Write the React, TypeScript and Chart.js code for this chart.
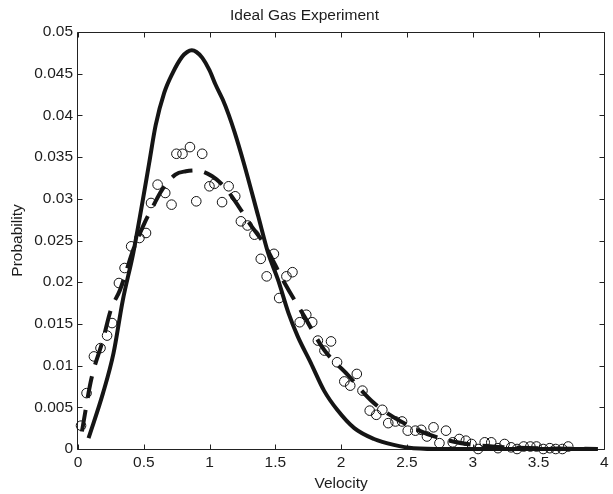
import { useEffect, useRef } from "react";
import { Chart, registerables } from "chart.js";

Chart.register(...registerables);

// ---- Data ----
const SAMPLE_V = [
  0.023, 0.065, 0.121, 0.171, 0.221, 0.259, 0.311, 0.354, 0.404, 0.467,
  0.517, 0.555, 0.605, 0.663, 0.711, 0.748, 0.794, 0.851, 0.899, 0.944,
  0.999, 1.037, 1.095, 1.145, 1.195, 1.238, 1.288, 1.341, 1.389, 1.434,
  1.489, 1.529, 1.584, 1.630, 1.685, 1.735, 1.780, 1.823, 1.873, 1.923,
  1.969, 2.024, 2.069, 2.119, 2.162, 2.217, 2.267, 2.313, 2.358, 2.413,
  2.463, 2.506, 2.564, 2.609, 2.652, 2.702, 2.747, 2.797, 2.848, 2.898,
  2.948, 2.991, 3.041, 3.091, 3.141, 3.192, 3.242, 3.292, 3.337, 3.387,
  3.438, 3.485, 3.536, 3.586, 3.631, 3.681, 3.726,
];
const SAMPLE_P = [
  0.0028, 0.0067, 0.0111, 0.0121, 0.0136, 0.0151, 0.0199, 0.0217, 0.0243, 0.0253,
  0.0259, 0.0295, 0.0317, 0.0307, 0.0293, 0.0354, 0.0354, 0.0362, 0.0297, 0.0354,
  0.0315, 0.0318, 0.0296, 0.0315, 0.0303, 0.0273, 0.0268, 0.0257, 0.0228, 0.0207,
  0.0234, 0.0181, 0.0207, 0.0212, 0.0152, 0.0161, 0.0152, 0.0130, 0.0118, 0.0129,
  0.0104, 0.0081, 0.0076, 0.0090, 0.0070, 0.0046, 0.0041, 0.0047, 0.0031, 0.0033,
  0.0033, 0.0022, 0.0022, 0.0023, 0.0015, 0.0026, 0.0007, 0.0022, 0.0008, 0.0012,
  0.0010, 0.0006, 0.0000, 0.0008, 0.0008, 0.0001, 0.0006, 0.0002, 0.0000, 0.0003,
  0.0003, 0.0003, 0.0000, 0.0001, 0.0000, 0.0000, 0.0003,
];

// dashed curve (fit to the samples)
const FIT_V = [
  0.03, 0.10, 0.19, 0.25, 0.32, 0.42, 0.50, 0.57, 0.64, 0.74,
  0.82, 0.90, 1.02, 1.12, 1.22, 1.31, 1.41, 1.57, 1.72, 1.87,
  2.05, 2.25, 2.58, 2.85, 3.15, 3.50, 3.95,
];
const FIT_P = [
  0.0021, 0.0083, 0.0131, 0.0167, 0.0191, 0.0239, 0.0269, 0.0291, 0.0311, 0.0329,
  0.0333, 0.0334, 0.0327, 0.0313, 0.0291, 0.0269, 0.0247, 0.0199, 0.0159, 0.0119,
  0.0089, 0.0055, 0.0023, 0.0009, 0.0003, 0.0001, 0.0000,
];

// solid curve (theory)
const THEORY_V = [
  0.08, 0.19, 0.27, 0.34, 0.42, 0.48, 0.54, 0.59, 0.655, 0.72,
  0.79, 0.83, 0.865, 0.90, 0.945, 1.00, 1.045, 1.10, 1.145, 1.19,
  1.26, 1.37, 1.445, 1.52, 1.60, 1.67, 1.77, 1.87, 1.97, 2.10,
  2.25, 2.40, 2.55, 2.80, 3.20, 3.60, 3.95,
];
const THEORY_P = [
  0.0013, 0.0067, 0.0115, 0.0178, 0.0235, 0.0287, 0.0342, 0.0388, 0.0427, 0.0451,
  0.0470, 0.0476, 0.0478, 0.0476, 0.0469, 0.0454, 0.0437, 0.0419, 0.0401, 0.0380,
  0.0343, 0.0279, 0.0235, 0.0203, 0.0163, 0.0135, 0.0103, 0.0070, 0.0047, 0.0025,
  0.0012, 0.0005, 0.0001, 0.0000, 0.0000, 0.0000, 0.0000,
];

const X_TICKS = [0, 0.5, 1, 1.5, 2, 2.5, 3, 3.5, 4];
const Y_TICKS = [0, 0.005, 0.01, 0.015, 0.02, 0.025, 0.03, 0.035, 0.04, 0.045, 0.05];

const TITLE = "Ideal Gas Experiment";
const X_LABEL = "Velocity";
const Y_LABEL = "Probability";

const FONT_FAMILY = "'Liberation Sans', Arial, Helvetica, sans-serif";
const TEXT_COLOR = "#1c1c1c";
const LINE_COLOR = "#151515";

const fmt = (v: number | string) => String(Number(Number(v).toFixed(4)));

const boxPlugin = {
  id: "matlabBox",
  beforeDatasetsDraw(chart: any) {
    const { ctx, chartArea: a, scales } = chart;
    const L = Math.round(a.left) - 0.5;
    const R = Math.round(a.right) + 0.5;
    const T = Math.round(a.top) + 0.5;
    const B = Math.round(a.bottom) + 0.5;
    const len = 5;
    ctx.save();
    ctx.strokeStyle = "#222";
    ctx.lineWidth = 1;
    ctx.beginPath();
    ctx.rect(L, T, R - L, B - T);
    for (const t of scales.x.ticks) {
      const px = Math.round(scales.x.getPixelForValue(t.value)) + 0.5;
      ctx.moveTo(px, B);
      ctx.lineTo(px, B - len);
      ctx.moveTo(px, T);
      ctx.lineTo(px, T + len);
    }
    for (const t of scales.y.ticks) {
      const py = Math.round(scales.y.getPixelForValue(t.value)) + 0.5;
      ctx.moveTo(L, py);
      ctx.lineTo(L + len, py);
      ctx.moveTo(R, py);
      ctx.lineTo(R - len, py);
    }
    ctx.stroke();
    ctx.restore();
  },
};

export default function App() {
  const canvasRef = useRef<HTMLCanvasElement | null>(null);

  useEffect(() => {
    document.body.style.margin = "0";
    const canvas = canvasRef.current;
    if (!canvas) return;
    const font = { family: FONT_FAMILY, size: 15.5, weight: "normal" as const };

    const chart = new Chart(canvas, {
      type: "scatter",
      data: {
        datasets: [
          {
            label: "theory",
            data: THEORY_V.map((v, i) => ({ x: v, y: THEORY_P[i] })),
            showLine: true,
            borderColor: LINE_COLOR,
            borderWidth: 4,
            pointRadius: 0,
            cubicInterpolationMode: "monotone",
            borderJoinStyle: "round",
            fill: false,
            clip: false as any,
          },
          {
            label: "fit",
            data: FIT_V.map((v, i) => ({ x: v, y: FIT_P[i] })),
            showLine: true,
            borderColor: LINE_COLOR,
            borderWidth: 4,
            borderDash: [22, 12],
            borderCapStyle: "butt",
            pointRadius: 0,
            cubicInterpolationMode: "monotone",
            fill: false,
            clip: false as any,
          },
          {
            label: "samples",
            data: SAMPLE_V.map((v, i) => ({ x: v, y: SAMPLE_P[i] })),
            showLine: false,
            pointStyle: "circle",
            pointRadius: 4.8,
            pointBorderWidth: 1,
            pointBorderColor: "#111",
            pointBackgroundColor: "rgba(0,0,0,0)",
            clip: false as any,
          },
        ],
      },
      options: {
        animation: false,
        responsive: false,
        events: [],
        layout: { padding: { left: 0, right: 4, top: 0, bottom: 0 } },
        plugins: {
          legend: { display: false },
          tooltip: { enabled: false },
          title: {
            display: true,
            text: TITLE,
            color: TEXT_COLOR,
            font,
            padding: { top: 6.4, bottom: 7 },
          },
        },
        scales: {
          x: {
            type: "linear",
            min: 0,
            max: 4,
            afterBuildTicks: (s: any) => {
              s.ticks = X_TICKS.map((value) => ({ value }));
            },
            afterFit: (s: any) => {
              s.height = 45;
            },
            grid: { display: false, drawTicks: false },
            border: { display: false },
            ticks: {
              callback: (v: any) => fmt(v),
              color: TEXT_COLOR,
              font,
              padding: 4.4,
              maxRotation: 0,
              autoSkip: false,
            },
            title: {
              display: true,
              text: X_LABEL,
              color: TEXT_COLOR,
              font,
              padding: { top: 0, bottom: 1 },
            },
          },
          y: {
            type: "linear",
            min: 0,
            max: 0.05,
            afterBuildTicks: (s: any) => {
              s.ticks = Y_TICKS.map((value) => ({ value }));
            },
            afterFit: (s: any) => {
              s.width = 78;
            },
            grid: { display: false, drawTicks: false },
            border: { display: false },
            ticks: {
              callback: (v: any) => fmt(v),
              color: TEXT_COLOR,
              font,
              padding: 5,
              autoSkip: false,
            },
            title: {
              display: true,
              text: Y_LABEL,
              color: TEXT_COLOR,
              font,
              padding: { top: 8.7, bottom: 0 },
            },
          },
        },
      },
      plugins: [boxPlugin],
    } as any);

    return () => chart.destroy();
  }, []);

  return (
    <div style={{ position: "absolute", left: 0, top: 0, width: 613, height: 494, background: "#fff" }}>
      <canvas ref={canvasRef} width={613} height={494} style={{ display: "block" }} />
    </div>
  );
}
